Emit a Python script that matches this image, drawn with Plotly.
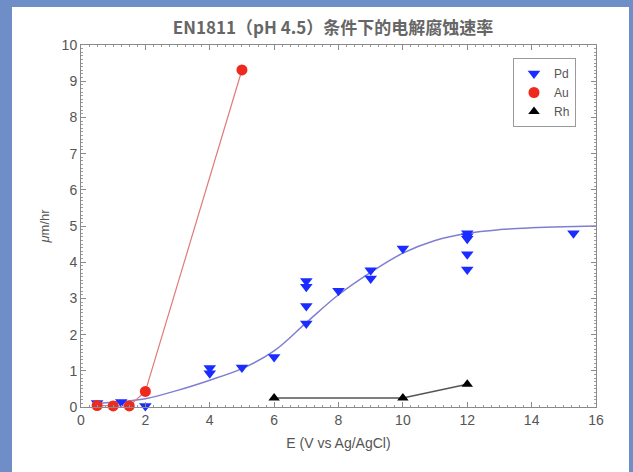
import plotly.graph_objects as go

# ---- data ----
pd_x = [0.5, 1.0, 1.25, 2.0, 4.0, 4.0, 5.0, 6.0, 7.0, 7.0, 7.0, 7.0, 8.0, 9.0, 9.0,
        10.0, 12.0, 12.0, 12.0, 12.0, 12.0, 15.3]
pd_y = [0.11, -0.05, 0.14, 0.03, 1.08, 0.93, 1.09, 1.38, 3.48, 3.32, 2.79, 2.31, 3.21, 3.78, 3.55,
        4.38, 4.80, 4.72, 4.65, 4.22, 3.80, 4.80]

fit_x = [0.5, 1, 2, 3, 4, 5, 6, 7, 8, 9, 10, 11, 12, 13, 14, 15, 16]
fit_y = [0.1, 0.13, 0.23, 0.46, 0.74, 1.06, 1.55, 2.33, 3.1, 3.72, 4.25, 4.6, 4.8, 4.9, 4.95, 4.98, 5.0]

au_x = [0.5, 1.0, 1.5, 2.0, 5.0]
au_y = [0.04, 0.03, 0.03, 0.43, 9.31]

rh_x = [6.0, 10.0, 12.0]
rh_y = [0.25, 0.25, 0.63]

x_ticks = [0, 2, 4, 6, 8, 10, 12, 14, 16]
y_ticks = [0, 1, 2, 3, 4, 5, 6, 7, 8, 9, 10]

title_text = "EN1811（pH 4.5）条件下的电解腐蚀速率"
x_title = "E (V vs Ag/AgCl)"
y_title = "<i>μ</i>m/hr"

# ---- figure ----
W, H = 633, 472
ml, mr, mt, mb = 81, 37, 45, 65
pw, ph = W - ml - mr, H - mt - mb
BLUE = "#6f8dc6"

def px_to_paper_x(px):
    return (px - ml) / pw

def px_to_paper_y(py):
    return (H - mb - py) / ph

fig = go.Figure()

# lines (not in legend)
fig.add_trace(go.Scatter(x=fit_x, y=fit_y, mode="lines", line=dict(color="#7f7fd2", width=1.5, shape="spline"),
                         showlegend=False, hoverinfo="skip"))
fig.add_trace(go.Scatter(x=au_x, y=au_y, mode="lines", line=dict(color="#e07a7a", width=1.2),
                         showlegend=False, hoverinfo="skip"))
fig.add_trace(go.Scatter(x=rh_x, y=rh_y, mode="lines", line=dict(color="#555555", width=1.5),
                         showlegend=False, hoverinfo="skip"))

# markers
fig.add_trace(go.Scatter(x=pd_x, y=pd_y, mode="markers", name="Pd", cliponaxis=False,
                         marker=dict(symbol="triangle-down", size=11, color="#1a2cff")))
fig.add_trace(go.Scatter(x=au_x, y=au_y, mode="markers", name="Au", cliponaxis=False,
                         marker=dict(symbol="circle", size=11, color="#ee2a1e")))
fig.add_trace(go.Scatter(x=rh_x, y=rh_y, mode="markers", name="Rh", cliponaxis=False,
                         marker=dict(symbol="triangle-up", size=10, color="#000000")))

# white panel on blue background
fig.add_shape(type="rect", xref="paper", yref="paper",
              x0=px_to_paper_x(12), x1=px_to_paper_x(629),
              y0=px_to_paper_y(480), y1=px_to_paper_y(7),
              fillcolor="white", line=dict(width=0), layer="below")

axis_common = dict(
    showline=True, linecolor="#8a8a8a", linewidth=1, mirror="allticks",
    ticks="inside", ticklen=5, tickcolor="#8a8a8a", tickwidth=1,
    showgrid=False, zeroline=False,
    tickfont=dict(family="Liberation Sans, Arial, sans-serif", size=14, color="#555555"),
)

fig.update_xaxes(range=[0, 16], tickvals=x_ticks, ticktext=[str(v) for v in x_ticks],
                 minor=dict(dtick=0.25, ticks="inside", ticklen=2, tickcolor="#9a9a9a", showgrid=False),
                 title=dict(text=x_title, standoff=11,
                            font=dict(family="Liberation Sans, Arial, sans-serif", size=14, color="#555555")),
                 **axis_common)
fig.update_yaxes(range=[0, 10], tickvals=y_ticks, ticktext=[str(v) for v in y_ticks],
                 minor=dict(dtick=0.1, ticks="inside", ticklen=2, tickcolor="#9a9a9a", showgrid=False),
                 title=dict(text=y_title, standoff=9,
                            font=dict(family="Liberation Sans, Arial, sans-serif", size=13, color="#555555")),
                 **axis_common)

fig.update_layout(
    width=W, height=H,
    margin=dict(l=ml, r=mr, t=mt, b=mb, autoexpand=False),
    paper_bgcolor=BLUE,
    plot_bgcolor="white",
    title=dict(text="<b>" + title_text + "</b>", x=333 / W, xanchor="center", xref="container",
               y=1 - 28 / H, yanchor="middle", yref="container",
               font=dict(family="Noto Sans CJK SC, Noto Sans, sans-serif", size=17, color="#666666")),
    legend=dict(x=px_to_paper_x(513), y=px_to_paper_y(58), xanchor="left", yanchor="top",
                bgcolor="white", bordercolor="#9a9a9a", borderwidth=1,
                font=dict(family="Liberation Sans, Arial, sans-serif", size=12, color="#555555"),
                tracegroupgap=0),
    showlegend=True,
)

fig.write_html(
    "out.html",
    config={"displayModeBar": False},
    post_script="document.body.style.margin='0';document.body.style.padding='0';"
                "document.body.style.background='" + BLUE + "';",
)
